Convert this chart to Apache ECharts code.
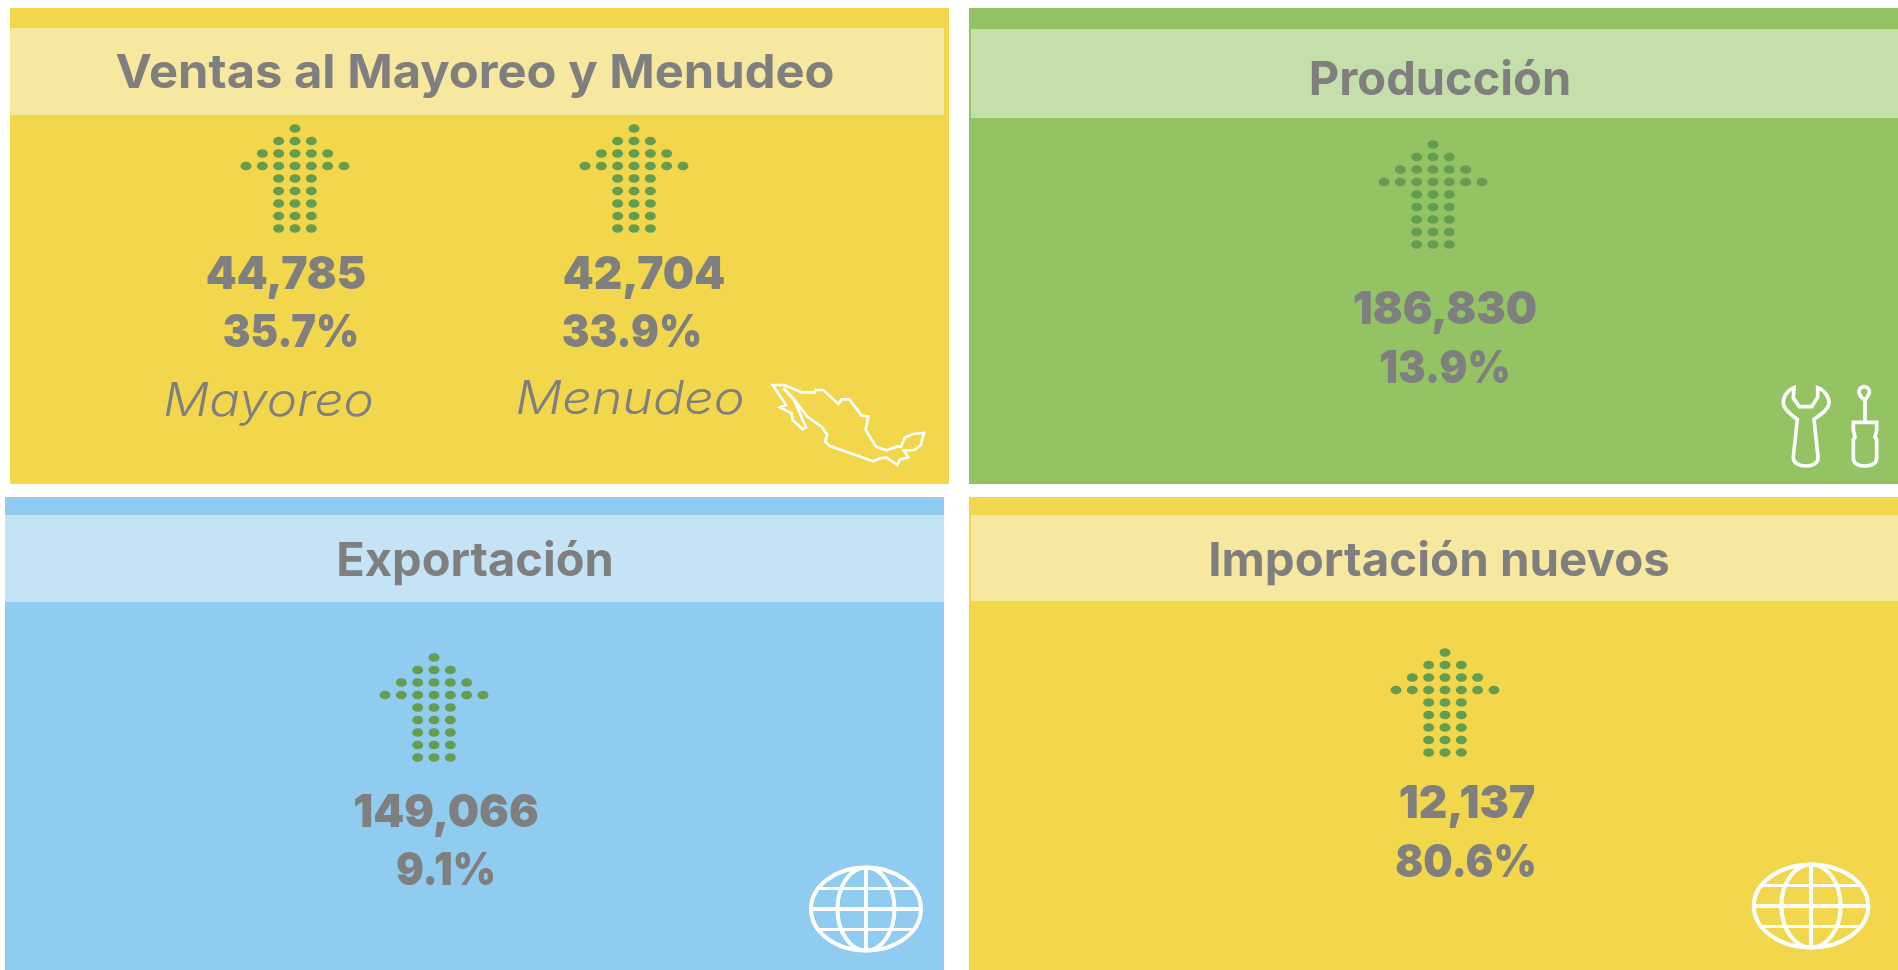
<!DOCTYPE html>
<html>
<head>
<meta charset="utf-8">
<title>Ventas</title>
<script src="https://cdn.jsdelivr.net/npm/echarts@6/dist/echarts.min.js"></script>
<style>
  html, body { margin: 0; padding: 0; background: #fff; }
  #main { width: 1898px; height: 970px; }
</style>
</head>
<body>
<div id="main"></div>
<script>
// datos
const panelTitles = ['Ventas al Mayoreo y Menudeo', 'Producción', 'Exportación', 'Importación nuevos'];
const unitNames = ['Mayoreo', 'Menudeo', 'Producción', 'Exportación', 'Importación nuevos'];
const unitValues = [44785, 42704, 186830, 149066, 12137];
const unitPercents = [35.7, 33.9, 13.9, 9.1, 80.6];
const subLabels = ['Mayoreo', 'Menudeo'];

// forma de la flecha: columnas ocupadas en cada renglon
const arrowRows = [
  [0],
  [-1, 0, 1],
  [-2, -1, 0, 1, 2],
  [-3, -2, -1, 0, 1, 2, 3],
  [-1, 0, 1],
  [-1, 0, 1],
  [-1, 0, 1],
  [-1, 0, 1],
  [-1, 0, 1]
];

const GRAY = '#7f7f7f';
const DOT = '#649c50';
const YELLOW = '#f2d64b';
const YELLOW_BAND = '#f7e89f';
const GREEN = '#93c363';
const GREEN_BAND = '#c4dfa9';
const BLUE = '#90ccef';
const BLUE_BAND = '#c4e3f5';
const FONT = 'Inter, Lato, sans-serif';

const panels = [
  { x: 10, y: 8, w: 939, h: 476, color: YELLOW, bx: 10, bw: 934, by: 28, bh: 87, band: YELLOW_BAND, tx: 475, ty: 74, sx: 1.04 },
  { x: 969, y: 8, w: 929, h: 476, color: GREEN, bx: 971, bw: 927, by: 29, bh: 89, band: GREEN_BAND, tx: 1440, ty: 81, sx: 1 },
  { x: 5, y: 497, w: 939, h: 473, color: BLUE, bx: 5, bw: 939, by: 515, bh: 87, band: BLUE_BAND, tx: 475, ty: 562, sx: 1 },
  { x: 969, y: 497, w: 929, h: 473, color: YELLOW, bx: 971, bw: 927, by: 515, bh: 86, band: YELLOW_BAND, tx: 1439, ty: 562, sx: 1.01 }
];

// centro de cada flecha y posicion de sus numeros
const arrows = [
  { cx: 295, top: 128.5, vx: 286, vy: 275, px: 291, py: 333 },
  { cx: 634, top: 128.5, vx: 644, vy: 275, px: 632, py: 333 },
  { cx: 1433, top: 144.5, vx: 1445, vy: 310, px: 1445, py: 369 },
  { cx: 434, top: 657.5, vx: 446, vy: 813, px: 446, py: 871 },
  { cx: 1445, top: 652.5, vx: 1467, vy: 804, px: 1466, py: 863 }
];

const STEP_X = 16.33;
const STEP_Y = 12.5;

const arrowPoints = [];
arrowRows.forEach((cols, row) => {
  cols.forEach(col => arrowPoints.push([col, row]));
});

const centerText = (text, x, y, size, weight, style, sx) => ({
  type: 'text',
  x: x,
  y: y,
  scaleX: sx || 1,
  z: 10,
  style: {
    text: text,
    x: 0,
    y: 0,
    align: 'center',
    verticalAlign: 'middle',
    fill: GRAY,
    font: (style || 'normal') + ' ' + weight + ' ' + size + 'px ' + FONT
  }
});

const globe = (cx, cy, sx) => ({
  type: 'group',
  x: cx,
  y: cy,
  scaleX: sx,
  z: 10,
  children: [
    { type: 'ellipse', shape: { cx: 0, cy: 0, rx: 55, ry: 41.5 }, style: { fill: 'none', stroke: '#fff', lineWidth: 4 } },
    { type: 'ellipse', shape: { cx: 0, cy: 0, rx: 28.5, ry: 41.5 }, style: { fill: 'none', stroke: '#fff', lineWidth: 4 } },
    { type: 'line', shape: { x1: 0, y1: -41, x2: 0, y2: 41 }, style: { stroke: '#fff', lineWidth: 4 } },
    { type: 'line', shape: { x1: -55, y1: 0, x2: 55, y2: 0 }, style: { stroke: '#fff', lineWidth: 4 } },
    { type: 'line', shape: { x1: -47, y1: -20.5, x2: 47, y2: -20.5 }, style: { stroke: '#fff', lineWidth: 3 } },
    { type: 'line', shape: { x1: -47, y1: 20.5, x2: 47, y2: 20.5 }, style: { stroke: '#fff', lineWidth: 3 } }
  ]
});

const mexicoPath = 'M818 255 L852 255 L905 277 L945 277 L947 270 L970 270 L1015 312 L1025 298 L1048 298 L1085 347 L1105 349 L1097 390 ' +
  'L1128 440 L1160 451 L1190 440 L1203 440 L1215 412 L1240 402 L1272 399 L1262 435 L1243 450 L1212 452 L1225 472 L1200 478 L1192 495 ' +
  'L1160 473 L1140 475 L1120 484 L990 438 L975 425 L982 405 L965 380 L922 350 L880 295 L850 264 L882 300 L918 382 L908 388 L878 360 L875 340 L840 322 L858 315 Z';

const wrenchPath = 'M282 83 C258 93 248 115 250 130 C252 150 275 165 292 178 L280 290 C278 310 300 318 318 318 C336 318 356 310 354 290 L342 178 ' +
  'C360 165 385 150 387 130 C388 112 375 92 353 83 L353 112 L335 140 L298 140 L280 115 Z';
const driverPath = 'M492 80 C503 80 510 90 508 98 C506 106 499 115 495 120 C487 115 479 105 477 98 C476 90 482 80 492 80 Z ' +
  'M495 120 L495 185 M460 187 L530 187 L530 210 L525 232 L530 238 L530 295 C530 312 510 318 495 318 C478 318 460 312 460 295 L460 238 L465 232 L460 210 Z';

// el componente graphic no trae tipo path, se registran las figuras
echarts.graphic.registerShape('mexico', echarts.graphic.extendPath(mexicoPath, {}));
echarts.graphic.registerShape('tools', echarts.graphic.extendPath(wrenchPath + ' ' + driverPath, {}));

const graphicEls = [];
panels.forEach((p, i) => {
  graphicEls.push({ type: 'rect', z: -2, shape: { x: p.x, y: p.y, width: p.w, height: p.h }, style: { fill: p.color } });
  graphicEls.push({ type: 'rect', z: -1, shape: { x: p.bx, y: p.by, width: p.bw, height: p.bh }, style: { fill: p.band } });
  graphicEls.push(centerText(panelTitles[i], p.tx, p.ty, 47, 700, 'normal', p.sx));
});
arrows.forEach((a, i) => {
  graphicEls.push(centerText(unitValues[i].toLocaleString('en-US'), a.vx, a.vy, 46, 900, 'normal', 0.96));
  graphicEls.push(centerText(unitPercents[i].toFixed(1) + '%', a.px, a.py, 46, 900, 'normal', 0.9));
});
graphicEls.push(centerText(subLabels[0], 268.5, 402, 46, 300, 'italic', 1.11));
graphicEls.push(centerText(subLabels[1], 630, 400, 46, 300, 'italic', 1.13));
graphicEls.push({
  type: 'mexico',
  x: 500, y: 300, scaleX: 1 / 3, scaleY: 1 / 3, z: 10,
  style: { fill: 'none', stroke: '#fff', lineWidth: 8 }
});
graphicEls.push({
  type: 'tools',
  x: 1700, y: 360, scaleX: 1 / 3, scaleY: 1 / 3, z: 10,
  style: { fill: 'none', stroke: '#fff', lineWidth: 11 }
});
graphicEls.push(globe(866, 909, 1));
graphicEls.push(globe(1811, 906, 1.04));

const chart = echarts.init(document.getElementById('main'), null, { renderer: 'canvas' });
chart.setOption({
  animation: false,
  tooltip: { show: false },
  graphic: { elements: graphicEls },
  grid: arrows.map(a => ({
    left: a.cx - 3 * STEP_X,
    top: a.top,
    width: 6 * STEP_X,
    height: 8 * STEP_Y
  })),
  xAxis: arrows.map((a, i) => ({ type: 'value', gridIndex: i, min: -3, max: 3, show: false })),
  yAxis: arrows.map((a, i) => ({ type: 'value', gridIndex: i, min: 0, max: 8, inverse: true, show: false })),
  series: arrows.map((a, i) => ({
    type: 'scatter',
    name: unitNames[i],
    xAxisIndex: i,
    yAxisIndex: i,
    data: arrowPoints,
    symbol: 'circle',
    symbolSize: [11, 8.5],
    itemStyle: { color: DOT, opacity: 1 },
    silent: true,
    clip: false
  }))
});
</script>
</body>
</html>
